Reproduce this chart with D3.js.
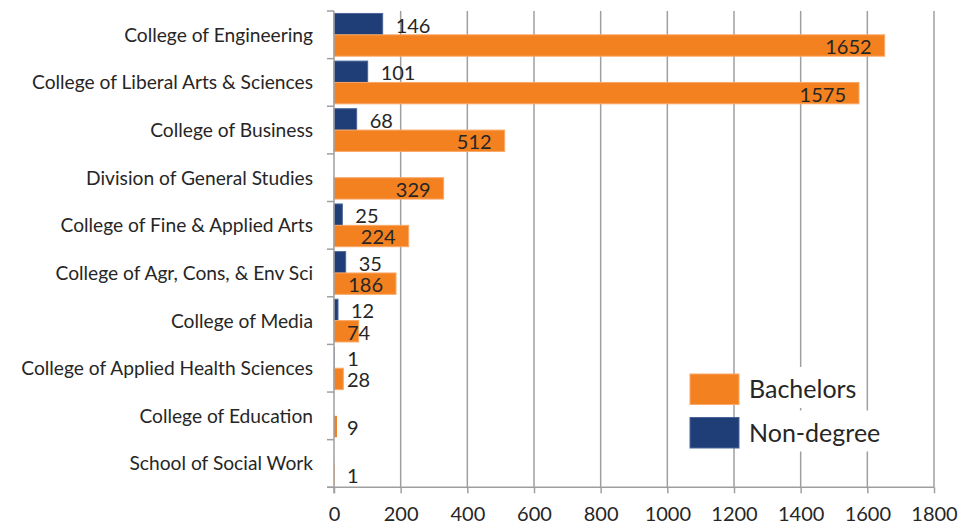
<!DOCTYPE html>
<html>
<head>
<meta charset="utf-8">
<script src="https://cdn.jsdelivr.net/npm/d3@7"></script>
<style>
  html, body { margin: 0; padding: 0; background: #fff; }
  svg { display: block; }
  text { font-family: Lato, "Open Sans", sans-serif; fill: #262626; }
</style>
</head>
<body>
<svg id="chart" width="971" height="526"></svg>
<script>
const categories = [
  "College of Engineering",
  "College of Liberal Arts & Sciences",
  "College of Business",
  "Division of General Studies",
  "College of Fine & Applied Arts",
  "College of Agr, Cons, & Env Sci",
  "College of Media",
  "College of Applied Health Sciences",
  "College of Education",
  "School of Social Work"
];
const nonDegree = [146, 101, 68, null, 25, 35, 12, 1, null, null];
const bachelors = [1652, 1575, 512, 329, 224, 186, 74, 28, 9, 1];
const seriesNames = ["Non-degree", "Bachelors"];
const legendOrder = ["Bachelors", "Non-degree"];
const xTickValues = [0, 200, 400, 600, 800, 1000, 1200, 1400, 1600, 1800];

const colors = { "Bachelors": "#F48120", "Non-degree": "#1F3E78" };
const strokes = { "Bachelors": "#F8A868", "Non-degree": "#4A6699" };

const svg = d3.select("#chart");
const pLeft = 334, pRight = 934, pTop = 11, pBottom = 487.3;
const fs = 20;
const catFs = 19.2;

const x = d3.scaleLinear().domain([0, 1800]).range([pLeft, pRight]);
const y = d3.scaleBand().domain(categories).range([pTop, pBottom]).paddingInner(0.103).paddingOuter(0.0515);
const ySub = d3.scaleBand().domain(seriesNames).range([0, y.bandwidth()]);

const gridColor = "#9f9f9f";

// gridlines
svg.append("g").selectAll("line")
  .data(xTickValues.filter(v => v > 0))
  .join("line")
  .attr("x1", d => x(d)).attr("x2", d => x(d))
  .attr("y1", pTop).attr("y2", pBottom)
  .attr("stroke", gridColor).attr("stroke-width", 1.5);

// data rows
const rows = categories.map((c, i) => ({ cat: c, "Non-degree": nonDegree[i], "Bachelors": bachelors[i] }));

const barG = svg.append("g");
seriesNames.forEach(s => {
  barG.selectAll("rect.s" + s.replace(/\W/g, ""))
    .data(rows.filter(r => r[s] != null))
    .join("rect")
    .attr("class", "s" + s.replace(/\W/g, ""))
    .attr("x", x(0))
    .attr("y", d => y(d.cat) + ySub(s))
    .attr("width", d => Math.max(x(d[s]) - x(0), 0.5))
    .attr("height", ySub.bandwidth())
    .attr("fill", colors[s])
    .attr("stroke", d => (x(d[s]) - x(0)) > 3 ? strokes[s] : "none")
    .attr("stroke-width", 1);
});

// axes lines
const boundaries = d3.range(categories.length + 1).map(i => pTop + i * (pBottom - pTop) / categories.length);
const axG = svg.append("g");
axG.append("line").attr("x1", pLeft).attr("x2", pLeft).attr("y1", pTop).attr("y2", pBottom + 6)
  .attr("stroke", gridColor).attr("stroke-width", 1.5);
axG.selectAll("line.lt").data(boundaries).join("line").attr("class", "lt")
  .attr("x1", pLeft - 7).attr("x2", pLeft).attr("y1", d => d).attr("y2", d => d)
  .attr("stroke", gridColor).attr("stroke-width", 1.5);
axG.append("line").attr("x1", pLeft - 7).attr("x2", pRight).attr("y1", pBottom).attr("y2", pBottom)
  .attr("stroke", gridColor).attr("stroke-width", 1.5);

// bottom axis via d3
const xAxis = d3.axisBottom(x).tickValues(xTickValues).tickSize(6).tickPadding(14).tickFormat(d3.format("d"));
const gx = svg.append("g").attr("transform", `translate(0,${pBottom})`).call(xAxis);
gx.select(".domain").remove();
gx.selectAll(".tick line").attr("stroke", gridColor).attr("stroke-width", 1.5);
gx.selectAll(".tick text").attr("font-size", fs + "px").attr("fill", "#262626")
  .style("font-family", "Lato, sans-serif");

// category labels
svg.append("g").selectAll("text")
  .data(categories).join("text")
  .attr("x", pLeft - 21)
  .attr("y", d => y(d) + y.bandwidth() / 2)
  .attr("dy", "0.36em")
  .attr("text-anchor", "end")
  .attr("font-size", catFs + "px")
  .text(d => d);

// value labels
const lblG = svg.append("g");
lblG.selectAll("text.nd")
  .data(rows.filter(r => r["Non-degree"] != null))
  .join("text").attr("class", "nd")
  .attr("x", d => x(d["Non-degree"]) + 13)
  .attr("y", d => y(d.cat) + ySub("Non-degree") + ySub.bandwidth() / 2)
  .attr("dy", "0.42em")
  .attr("font-size", fs + "px")
  .text(d => d["Non-degree"]);
lblG.selectAll("text.ba")
  .data(rows.filter(r => r["Bachelors"] != null))
  .join("text").attr("class", "ba")
  .attr("y", d => y(d.cat) + ySub("Bachelors") + ySub.bandwidth() / 2)
  .attr("dy", "0.42em")
  .attr("font-size", fs + "px")
  .text(d => d["Bachelors"])
  .each(function(d) {
    const w = this.getComputedTextLength();
    const endX = Math.max(x(d["Bachelors"]) - 13, x(0) + 13 + w);
    d3.select(this).attr("x", endX - w);
  });

// legend
const legG = svg.append("g");
const legX = 690, legY0 = 374, legStep = 43.5;
legendOrder.forEach((s, i) => {
  const yy = legY0 + i * legStep;
  const t = legG.append("text")
    .attr("x", legX + 59)
    .attr("y", yy + 15)
    .attr("dy", "0.36em")
    .attr("font-size", "25px")
    .text(s);
  const bb = t.node().getBBox();
  legG.insert("rect", "text")
    .attr("x", bb.x - 3).attr("y", yy - 7)
    .attr("width", bb.width + 6).attr("height", 41)
    .attr("fill", "#fff");
  legG.append("rect")
    .attr("x", legX).attr("y", yy)
    .attr("width", 49).attr("height", 30.5)
    .attr("fill", colors[s])
    .attr("stroke", strokes[s]).attr("stroke-width", 1);
});
</script>
</body>
</html>
